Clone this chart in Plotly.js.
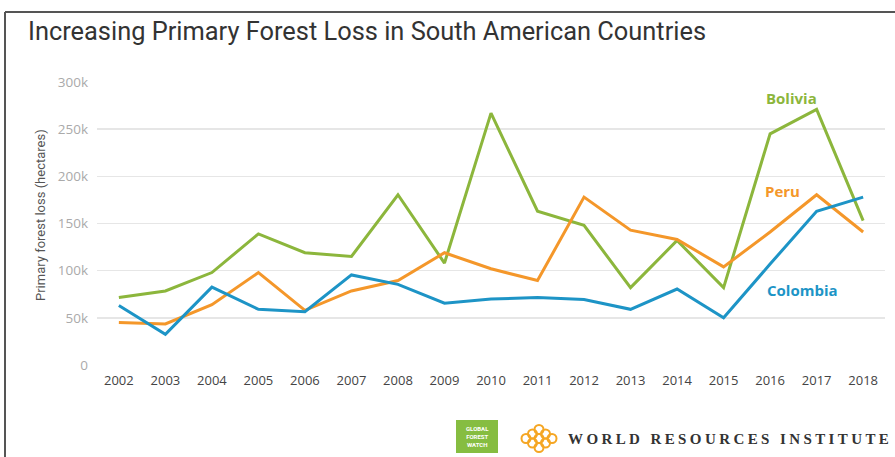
<!DOCTYPE html>
<html>
<head>
<meta charset="utf-8">
<script src="https://cdn.plot.ly/plotly-3.0.1.min.js"></script>
<style>html,body{margin:0;padding:0;background:#fff;}#chart{width:895px;height:457px;}</style>
</head>
<body>
<div id="chart"></div>
<script>
const years = [2002,2003,2004,2005,2006,2007,2008,2009,2010,2011,2012,2013,2014,2015,2016,2017,2018];
const bolivia = [71500,78500,98000,139000,119000,115000,180500,108000,267000,163000,148000,82000,132000,82000,245000,271000,153000];
const peru = [45000,43500,64000,98000,58000,78500,89500,119000,102000,89500,178000,143000,133000,104000,141000,180500,141000];
const colombia = [63000,32500,82500,59000,56500,95500,85500,65500,70000,71500,69500,59000,80500,50000,107000,163000,178000];
const yTicks = [0,50000,100000,150000,200000,250000,300000];
const yTickText = ['0','50k','100k','150k','200k','250k','300k'];
const seriesNames = ['Bolivia','Peru','Colombia'];
const labelPos = {Bolivia:[2016.47,283500], Peru:[2016.26,184000], Colombia:[2016.69,79500]};
const colors = {Bolivia:'#8cb63c', Peru:'#f4972a', Colombia:'#1d94c6'};

const L=97, R=10, T=82, B=92, W=895, H=457;
const pw = W-L-R, ph = H-T-B;
const px = x => (x-L)/pw;
const py = y => (H-B-y)/ph;

const data = [
  {x:years, y:bolivia, name:'Bolivia'},
  {x:years, y:peru, name:'Peru'},
  {x:years, y:colombia, name:'Colombia'}
].map(d => Object.assign(d, {type:'scatter', mode:'lines', line:{color:colors[d.name], width:3}, hoverinfo:'x+y'}));

const annotations = seriesNames.map(n => ({
  x:labelPos[n][0], y:labelPos[n][1], xref:'x', yref:'y', text:'<b>'+n+'</b>', showarrow:false,
  xanchor:'center', yanchor:'middle',
  font:{family:'Open Sans', size:15, color:colors[n]}
}));
annotations.push({
  x:px(40), y:py(215), xref:'paper', yref:'paper', xanchor:'center', yanchor:'middle',
  text:'Primary forest loss (hectares)', textangle:-90,
  showarrow:false, font:{family:'Liberation Sans Narrow, Roboto', size:13, color:'#555'}
});
annotations.push({
  x:px(477), y:py(436.5), xref:'paper', yref:'paper', xanchor:'center', yanchor:'middle',
  text:'<b>GLOBAL<br>FOREST<br>WATCH</b>', showarrow:false,
  font:{family:'Roboto', size:6, color:'#fff'}, align:'center'
});
annotations.push({
  x:px(566), y:py(439), xref:'paper', yref:'paper', xanchor:'left', yanchor:'middle',
  text:'<b><span style="letter-spacing:3.4px">WORLD RESOURCES INSTITUTE</span></b>', showarrow:false,
  font:{family:'Liberation Serif', size:15, color:'#333'}
});

const shapes = [
  {type:'line', xref:'paper', yref:'paper', x0:px(5), x1:px(895), y0:py(12), y1:py(12), line:{color:'#555', width:2}},
  {type:'line', xref:'paper', yref:'paper', x0:px(5), x1:px(5), y0:py(12), y1:py(457), line:{color:'#555', width:2}},
  {type:'rect', xref:'paper', yref:'paper', x0:px(456), x1:px(498), y0:py(420), y1:py(453), fillcolor:'#86bd41', line:{width:0}}
];
// WRI lattice mark
for (let i=-1;i<=1;i++) for (let j=-1;j<=1;j++) {
  const cx = 539 + (i-j)*6.5, cy = 438.5 + (i+j)*4.5;
  shapes.push({type:'circle', xref:'paper', yref:'paper', x0:px(cx-4.5), x1:px(cx+4.5), y0:py(cy-4.5), y1:py(cy+4.5),
    line:{color:'#f5a623', width:2}, fillcolor:'rgba(0,0,0,0)'});
}

const layout = {
  width:W, height:H, margin:{l:L, r:R, t:T, b:B},
  paper_bgcolor:'#fff', plot_bgcolor:'#fff', showlegend:false,
  title:{text:'Increasing Primary Forest Loss in South American Countries', xref:'container', yref:'container',
    x:28/W, xanchor:'left', y:1-31/H, yanchor:'middle',
    font:{family:'Liberation Sans Narrow, Roboto', size:25.4, color:'#333'}},
  xaxis:{range:[2001.53, 2018.47], tickmode:'array', tickvals:years, ticktext:years.map(String), showgrid:false,
    zeroline:false, showline:false, ticks:'', tickfont:{family:'Open Sans', size:13, color:'#444'}, ticklabelstandoff:6, fixedrange:true},
  yaxis:{range:[0,300000], tickmode:'array', tickvals:yTicks, ticktext:yTickText, showgrid:true, gridcolor:'#e6e6e6', gridwidth:1.5,
    zeroline:false, showline:false, ticks:'', tickfont:{family:'Open Sans', size:13.5, color:'#aaa'}, ticklabelstandoff:8, fixedrange:true},
  annotations: annotations,
  shapes: shapes
};
Plotly.newPlot('chart', data, layout, {displayModeBar:false, staticPlot:true});
</script>
</body>
</html>
